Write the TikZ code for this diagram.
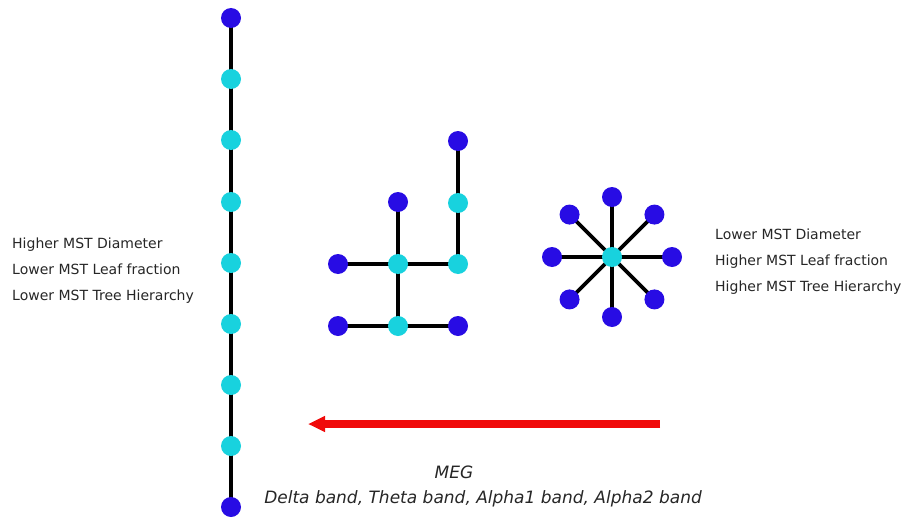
\documentclass[tikz,border=0pt]{standalone}
\usepackage{fontspec}
\setmainfont{DejaVu Sans}
\usetikzlibrary{arrows.meta,backgrounds,calc}
\definecolor{dkblue}{RGB}{40,12,228}
\definecolor{cyanc}{RGB}{24,210,222}
\definecolor{arrred}{RGB}{240,10,10}
\begin{document}
\begin{tikzpicture}[x=1pt,y=-1pt,
  leaf/.style={circle,fill=dkblue,minimum size=20pt,inner sep=0pt},
  hub/.style={circle,fill=cyanc,minimum size=20pt,inner sep=0pt},
  edge/.style={line width=3.8pt,black},
  lbl/.style={anchor=base west,font=\fontsize{14}{16}\selectfont,text=black!85,inner sep=0pt},
  captext/.style={anchor=base,font=\fontsize{17}{20}\selectfont\itshape,text=black!85,inner sep=0pt}]
\useasboundingbox (0,0) rectangle (907,519);
% chain
\node[leaf] (c1) at (231,18) {};
\node[hub] (c2) at (231,79) {};
\node[hub] (c3) at (231,140) {};
\node[hub] (c4) at (231,202) {};
\node[hub] (c5) at (231,263) {};
\node[hub] (c6) at (231,324) {};
\node[hub] (c7) at (231,385) {};
\node[hub] (c8) at (231,446) {};
\node[leaf] (c9) at (231,507) {};
% tree
\node[leaf] (t1) at (458,141) {};
\node[hub] (t2) at (458,203) {};
\node[leaf] (t3) at (398,202) {};
\node[leaf] (t4) at (338,264) {};
\node[hub] (t5) at (398,264) {};
\node[hub] (t6) at (458,264) {};
\node[leaf] (t7) at (338,326) {};
\node[hub] (t8) at (398,326) {};
\node[leaf] (t9) at (458,326) {};
% star
\node[hub] (s0) at (612,257) {};
\foreach \a [count=\i] in {90,45,0,-45,-90,-135,180,135}
  \node[leaf] (s\i) at ($(612,257)+(\a:60)$) {};
\begin{scope}[on background layer]
\draw[edge] (c1.center) -- (c2.center) -- (c3.center) -- (c4.center) -- (c5.center) -- (c6.center) -- (c7.center) -- (c8.center) -- (c9.center);
\draw[edge] (t1.center) -- (t2.center) -- (t6.center) -- (t5.center) -- (t4.center);
\draw[edge] (t3.center) -- (t5.center) -- (t8.center);
\draw[edge] (t7.center) -- (t8.center) -- (t9.center);
\foreach \i in {1,...,8} \draw[edge] (s0.center) -- (s\i.center);
\end{scope}
% labels
\node[lbl] (l1) at (12,248) {Higher MST Diameter};
\node[lbl] (l2) at (12,274) {Lower MST Leaf fraction};
\node[lbl] (l3) at (12,300) {Lower MST Tree Hierarchy};
\node[lbl] (r1) at (715,239.5) {Lower MST Diameter};
\node[lbl] (r2) at (715,265) {Higher MST Leaf fraction};
\node[lbl] (r3) at (715,291) {Higher MST Tree Hierarchy};
% arrow
\coordinate (aS) at (660,424);
\coordinate (aE) at (308,424);
\draw[arrred,line width=8pt,-{Triangle[length=17pt,width=15pt]}] (aS) -- (aE);
\node[captext] (meg) at (454,478) {MEG};
\node[captext] (bands) at (483,503) {Delta band, Theta band, Alpha1 band, Alpha2 band};
\end{tikzpicture}
\end{document}
